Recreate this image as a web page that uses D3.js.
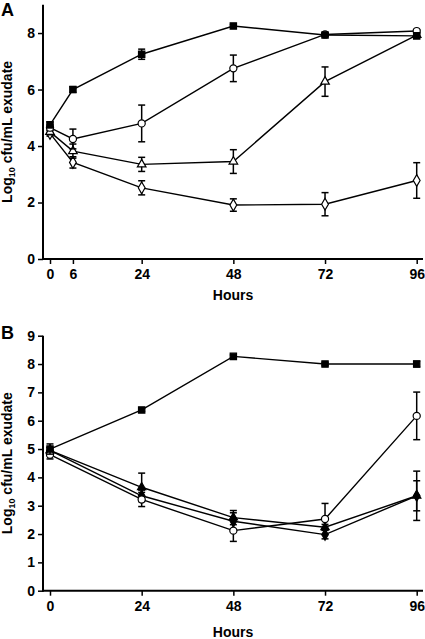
<!DOCTYPE html>
<html><head><meta charset="utf-8">
<script src="https://cdn.jsdelivr.net/npm/d3@7"></script>
<style>
html,body{margin:0;padding:0;background:#fff;}
svg text{font-family:Arial,"Liberation Sans",sans-serif;font-weight:bold;fill:#000;}
</style></head>
<body>
<svg id="c" width="425" height="639"></svg>
<script>
// ---- Data ----
const hoursA = [0, 6, 24, 48, 72, 96];
const xTicksA = [0, 6, 24, 48, 72, 96];
const yTicksA = [0, 2, 4, 6, 8];
const A_square = [4.75, 6.0, 7.25, 8.25, 7.93, 7.9];
const A_squareErr = [0.1, 0.1, 0.18, 0.05, 0.05, 0.07];
const A_circle = [4.65, 4.25, 4.8, 6.75, 7.95, 8.07];
const A_circleErr = [0.1, 0.35, 0.65, 0.47, 0.05, 0.05];
const A_triangle = [4.5, 3.82, 3.35, 3.45, 6.28, 7.93];
const A_triangleErr = [0.1, 0.25, 0.25, 0.42, 0.52, 0.05];
const A_diamond = [4.45, 3.42, 2.52, 1.91, 1.94, 2.78];
const A_diamondErr = [0.1, 0.2, 0.25, 0.22, 0.41, 0.63];

const hoursB = [0, 24, 48, 72, 96];
const xTicksB = [0, 24, 48, 72, 96];
const yTicksB = [0, 1, 2, 3, 4, 5, 6, 7, 8, 9];
const B_square = [5.0, 6.38, 8.27, 8.0, 8.0];
const B_squareErr = [0.18, 0.05, 0.05, 0.05, 0.1];
const B_circle = [4.8, 3.22, 2.12, 2.53, 6.17];
const B_circleErr = [0.15, 0.25, 0.38, 0.55, 0.84];
const B_triangle = [4.95, 3.65, 2.58, 2.24, 3.35];
const B_triangleErr = [0.1, 0.5, 0.25, 0.1, 0.87];
const B_diamond = [4.95, 3.35, 2.45, 1.98, 3.35];
const B_diamondErr = [0.1, 0.2, 0.3, 0.15, 0.53];

const yLabel = "Log";
const xLabel = "Hours";

// ---- Drawing ----
const svg = d3.select("#c");

function panel(cfg) {
  const g = svg.append("g");
  const x = d3.scaleLinear().domain([0, 96]).range([50, 416.7]);
  const y = d3.scaleLinear().domain([0, 9]).range([cfg.y0, cfg.y9]);
  const axisX0 = 43, axisX1 = 423;

  // y axis
  const ya = g.append("g").attr("transform", `translate(${axisX0},0)`)
    .call(d3.axisLeft(y).tickValues(cfg.yTicks).tickSize(5).tickPadding(3).tickFormat(d3.format("d")));
  ya.select(".domain").remove();
  g.append("line").attr("x1", axisX0).attr("x2", axisX0).attr("y1", y(0) + 1).attr("y2", y(9))
    .attr("stroke", "#000").attr("stroke-width", 2);
  ya.selectAll(".tick line").attr("stroke-width", 1.5);
  ya.selectAll("text").style("font-size", "14px");

  // x axis
  const xa = g.append("g").attr("transform", `translate(0,${y(0)})`)
    .call(d3.axisBottom(x).tickValues(cfg.xTicks).tickSize(5).tickPadding(5).tickFormat(d3.format("d")));
  xa.select(".domain").remove();
  g.append("line").attr("x1", axisX0 - 1).attr("x2", axisX1).attr("y1", y(0)).attr("y2", y(0))
    .attr("stroke", "#000").attr("stroke-width", 2);
  xa.selectAll(".tick line").attr("stroke-width", 1.5);
  xa.selectAll("text").style("font-size", "14px");

  // labels
  g.append("text").attr("x", 233).attr("y", cfg.hoursY).attr("text-anchor", "middle")
    .style("font-size", "14px").text(xLabel);
  const yl = g.append("text").attr("transform", `translate(12,${(y(0) + y(9)) / 2}) rotate(-90)`)
    .attr("text-anchor", "middle").style("font-size", "14px");
  yl.append("tspan").text("Log");
  yl.append("tspan").attr("dy", 3).style("font-size", "9px").text("10");
  yl.append("tspan").attr("dy", -3).text(" cfu/mL exudate");
  g.append("text").attr("x", 1).attr("y", cfg.letterY).style("font-size", "18px").text(cfg.letter);

  const line = d3.line().x(d => x(d[0])).y(d => y(d[1]));
  const sym = {
    square: d3.symbolSquare, circle: d3.symbolCircle,
    triangle: d3.symbolTriangle, diamond: d3.symbolDiamond
  };
  cfg.series.forEach(s => {
    const pts = cfg.hours.map((h, i) => [h, s.v[i], s.e[i]]);
    g.append("path").datum(pts).attr("d", line).attr("fill", "none")
      .attr("stroke", "#000").attr("stroke-width", 1.4);
    // error bars
    pts.forEach(p => {
      const yt = y(p[1] + p[2]), yb = y(p[1] - p[2]), cx = x(p[0]);
      g.append("line").attr("x1", cx).attr("x2", cx).attr("y1", yt).attr("y2", yb)
        .attr("stroke", "#000").attr("stroke-width", 1.5);
      [yt, yb].forEach(yy => g.append("line").attr("x1", cx - 3.5).attr("x2", cx + 3.5)
        .attr("y1", yy).attr("y2", yy).attr("stroke", "#000").attr("stroke-width", 1.5));
    });
    g.selectAll(null).data(pts).enter().append("path")
      .attr("transform", p => `translate(${x(p[0])},${y(p[1])})`)
      .attr("d", d3.symbol().type(sym[s.shape]).size(s.size))
      .attr("fill", s.filled ? "#000" : "#fff").attr("stroke", "#000").attr("stroke-width", 1.2);
  });
}

panel({
  y0: 259, y9: 4.8, yTicks: yTicksA, xTicks: xTicksA, hours: hoursA,
  hoursY: 300, letter: "A", letterY: 16,
  series: [
    {v: A_diamond, e: A_diamondErr, shape: "diamond", filled: false, size: 40},
    {v: A_triangle, e: A_triangleErr, shape: "triangle", filled: false, size: 32},
    {v: A_circle, e: A_circleErr, shape: "circle", filled: false, size: 40},
    {v: A_square, e: A_squareErr, shape: "square", filled: true, size: 40}
  ]
});
panel({
  y0: 590.7, y9: 335.7, yTicks: yTicksB, xTicks: xTicksB, hours: hoursB,
  hoursY: 637, letter: "B", letterY: 339,
  series: [
    {v: B_diamond, e: B_diamondErr, shape: "diamond", filled: true, size: 36},
    {v: B_triangle, e: B_triangleErr, shape: "triangle", filled: true, size: 30},
    {v: B_circle, e: B_circleErr, shape: "circle", filled: false, size: 40},
    {v: B_square, e: B_squareErr, shape: "square", filled: true, size: 40}
  ]
});
</script>
</body></html>
